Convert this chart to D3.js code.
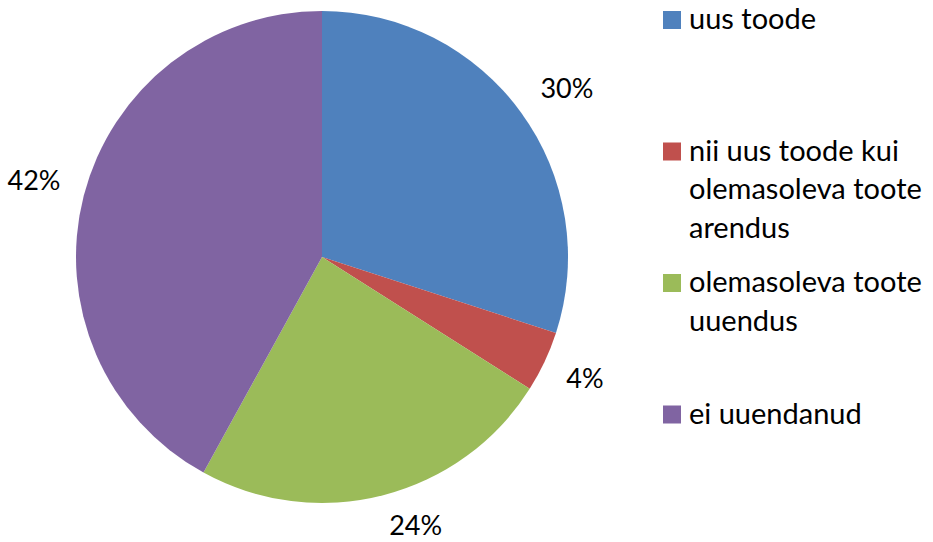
<!DOCTYPE html>
<html><head><meta charset="utf-8">
<script src="https://cdn.jsdelivr.net/npm/d3@7"></script>
<style>body{margin:0;background:#fff}svg{display:block;font-family:Lato,"Open Sans",sans-serif}</style>
</head><body><svg id="c" width="933" height="542"></svg>
<script>
const categories = ["uus toode","nii uus toode kui olemasoleva toote arendus","olemasoleva toote uuendus","ei uuendanud"];
const values = [30,4,24,42];
const colors = ["#4F81BD","#C0504D","#9BBB59","#8064A2"];

const svg = d3.select("#c");
const W=933,H=542, cx=322, cy=257, R=246;
const fs=27, lfs=29;
const pie = d3.pie().sort(null).value(d=>d)(values);
const arc = d3.arc().innerRadius(0).outerRadius(R);
const g = svg.append("g").attr("transform",`translate(${cx},${cy})`);
g.selectAll("path").data(pie).join("path").attr("d",arc).attr("fill",(d,i)=>colors[i]);

const total = d3.sum(values);
const LR = 270, th = 16;
g.selectAll("text.lbl").data(pie).join("text").attr("class","lbl")
 .each(function(d){
   const a=(d.startAngle+d.endAngle)/2;
   const px=LR*Math.sin(a), py=-LR*Math.cos(a);
   const t=d3.select(this);
   t.attr("x",px).attr("y", Math.cos(a)>0 ? py : py+th)
    .attr("text-anchor", Math.sin(a)>=0 ? "start":"end");
 })
 .attr("font-size",fs).attr("fill","#000")
 .text(d=>Math.round(d.value/total*100)+"%");

// legend
const lx=663, sq=18, tx=689, slot=131.5, lineH=38.5, maxW=244;
const lg = svg.append("g");
categories.forEach((c,i)=>{
  const top=i*slot, base=top+29;
  lg.append("rect").attr("x",lx).attr("y",base-sq).attr("width",sq).attr("height",sq).attr("fill",colors[i]);
  const t=lg.append("text").attr("x",tx).attr("y",base).attr("font-size",lfs).attr("fill","#000");
  const words=c.split(" "); let line=[], ln=0;
  let ts=t.append("tspan").attr("x",tx).attr("dy",0);
  words.forEach(w=>{
    line.push(w); ts.text(line.join(" "));
    if(ts.node().getComputedTextLength()>maxW && line.length>1){
      line.pop(); ts.text(line.join(" ")); line=[w]; ln++;
      ts=t.append("tspan").attr("x",tx).attr("dy",lineH).text(w);
    }
  });
});
</script></body></html>
